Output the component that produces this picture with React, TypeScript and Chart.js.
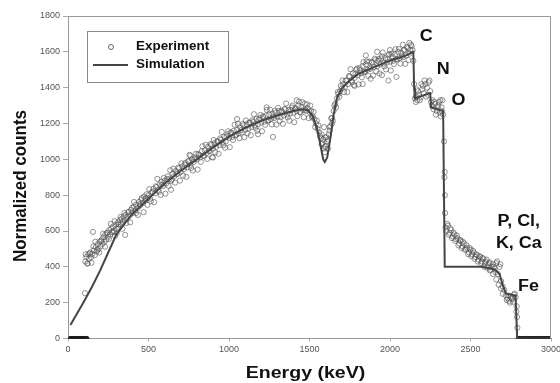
import React, { useEffect, useRef } from "react";
import { Chart, registerables } from "chart.js";

Chart.register(...registerables);

// ---- Data ----
const xTicks = [0, 500, 1000, 1500, 2000, 2500, 3000];
const yTicks = [0, 200, 400, 600, 800, 1000, 1200, 1400, 1600, 1800];

const expZeroLowE = [12, 16, 20, 24, 28, 32, 36, 40, 44, 48, 52, 56, 60, 64, 68, 72, 76, 80, 84, 88, 92, 96, 100, 104, 108, 112, 116, 119];

const expRise: [number, number][] = [
  [105, 253], [108, 430], [114, 455], [120, 418], [126, 470], [132, 445], [138, 480], [144, 455], [150, 472], [155, 595],
  [160, 492], [166, 465], [172, 510], [178, 485], [184, 525], [190, 500], [196, 540], [202, 515], [208, 550], [214, 528],
  [220, 565], [226, 540], [232, 580], [238, 552], [244, 590], [250, 568], [256, 605], [262, 580], [268, 615], [274, 592],
  [280, 625], [286, 600], [292, 572], [298, 635], [304, 612], [310, 648], [316, 622], [322, 660], [328, 638], [334, 668],
  [340, 650], [346, 682], [352, 660], [355, 578], [360, 690], [368, 672], [376, 705], [384, 688], [392, 718], [400, 700],
  [408, 735], [416, 715], [424, 748], [432, 728], [440, 762], [448, 742], [456, 775], [464, 755], [472, 792], [480, 770],
  [488, 805], [496, 785],
];

const expRiseB: [number, number][] = [
  [110, 470], [122, 420], [134, 475], [146, 423], [158, 515], [170, 540], [182, 493], [194, 480], [206, 543], [218, 585],
  [230, 512], [242, 589], [254, 555], [266, 640], [278, 597], [290, 655], [302, 588], [314, 638], [326, 678], [338, 612],
  [350, 700], [362, 645], [374, 706], [386, 648], [398, 729], [410, 762], [422, 700], [434, 690], [446, 750], [458, 784],
  [470, 705], [482, 782], [494, 746],
];

const expMid: [number, number][] = [
  [500, 800], [510, 780], [520, 815], [530, 835], [540, 810], [550, 845], [560, 830], [570, 860], [580, 875], [590, 850],
  [600, 880], [610, 865], [620, 905], [630, 890], [640, 880], [650, 920], [660, 905], [670, 935], [680, 920], [690, 950],
  [700, 930], [710, 960], [720, 945], [730, 980], [740, 955], [750, 990], [760, 970], [770, 1000], [780, 985], [790, 1010],
  [800, 1000], [810, 1030], [820, 1010], [830, 1045], [840, 1020], [850, 1050], [860, 1035], [870, 1070], [880, 1045], [890, 1080],
  [900, 1060], [910, 1090], [920, 1070], [930, 1100], [940, 1080], [950, 1110], [960, 1095], [970, 1125], [980, 1100], [990, 1140],
  [1000, 1120], [1010, 1150], [1020, 1125], [1030, 1160], [1040, 1135], [1050, 1165], [1060, 1145], [1070, 1180], [1080, 1150], [1090, 1190],
  [1100, 1165], [1110, 1195], [1120, 1170], [1130, 1205], [1140, 1180], [1150, 1210], [1160, 1190], [1170, 1225], [1180, 1195], [1190, 1230],
  [1200, 1205], [1210, 1240], [1220, 1210], [1230, 1245], [1240, 1215], [1250, 1250], [1260, 1225], [1270, 1255], [1280, 1230], [1290, 1260],
  [1300, 1240], [1310, 1270], [1320, 1235], [1330, 1265], [1340, 1245], [1350, 1280], [1360, 1250], [1370, 1275], [1380, 1255], [1390, 1290],
  [1400, 1260], [1410, 1285], [1420, 1270], [1430, 1300], [1440, 1265], [1450, 1290], [1460, 1275], [1470, 1310], [1480, 1270], [1490, 1285],
  [1273, 1125], [1234, 1290], [1180, 1140], [1420, 1330], [1050, 1225], [900, 1010], [760, 1020], [640, 830],
];

const expMidB: [number, number][] = [
  [505, 834], [515, 766], [525, 819], [535, 761], [545, 849], [555, 891], [565, 819], [575, 801], [585, 859], [595, 896],
  [605, 808], [615, 890], [625, 852], [635, 939], [645, 886], [655, 948], [665, 870], [675, 917], [685, 954], [695, 881],
  [705, 978], [715, 909], [725, 971], [735, 902], [745, 989], [755, 1025], [765, 952], [775, 938], [785, 1000], [795, 1031],
  [805, 943], [815, 1025], [825, 986], [835, 1073], [845, 1019], [855, 1081], [865, 1002], [875, 1049], [885, 1085], [895, 1012],
  [905, 1108], [915, 1039], [925, 1100], [935, 1031], [945, 1117], [955, 1153], [965, 1079], [975, 1065], [985, 1126], [995, 1157],
  [1005, 1068], [1015, 1148], [1025, 1108], [1035, 1193], [1045, 1138], [1055, 1198], [1065, 1118], [1075, 1163], [1085, 1198], [1095, 1123],
  [1105, 1217], [1115, 1146], [1125, 1205], [1135, 1134], [1145, 1218], [1155, 1252], [1165, 1176], [1175, 1160], [1185, 1219], [1195, 1248],
  [1205, 1157], [1215, 1235], [1225, 1193], [1235, 1276], [1245, 1219], [1255, 1277], [1265, 1195], [1275, 1238], [1285, 1271], [1295, 1194],
  [1305, 1287], [1315, 1214], [1325, 1271], [1335, 1198], [1345, 1280], [1355, 1312], [1365, 1234], [1375, 1216], [1385, 1273], [1395, 1300],
  [1405, 1207], [1415, 1284], [1425, 1241], [1435, 1322], [1445, 1263], [1455, 1319], [1465, 1235], [1475, 1276], [1485, 1307], [1495, 1230],
];

const expDip: [number, number][] = [
  [1500, 1265], [1510, 1270], [1520, 1240], [1530, 1225], [1540, 1200], [1550, 1170], [1560, 1150], [1570, 1120], [1580, 1090], [1590, 1060],
  [1600, 1075], [1610, 1100], [1620, 1140], [1630, 1185], [1640, 1230], [1650, 1270], [1660, 1310], [1670, 1340], [1680, 1365], [1690, 1380],
  [1555, 1190], [1575, 1140], [1600, 1120], [1615, 1060], [1625, 1180], [1640, 1200], [1590, 1180], [1595, 1040],
  [1505, 1300], [1515, 1235], [1525, 1265], [1535, 1180], [1545, 1215], [1565, 1130], [1575, 1085], [1585, 1110], [1595, 1070], [1605, 1125],
  [1615, 1110], [1625, 1160], [1635, 1230], [1645, 1215], [1655, 1300], [1665, 1290], [1675, 1375], [1685, 1350], [1695, 1410],
];

const expHigh: [number, number][] = [
  [1700, 1395], [1710, 1420], [1720, 1405], [1730, 1440], [1740, 1420], [1750, 1460], [1760, 1440], [1770, 1480], [1780, 1455], [1790, 1500],
  [1800, 1470], [1810, 1510], [1820, 1480], [1830, 1520], [1840, 1490], [1850, 1530], [1860, 1500], [1870, 1545], [1880, 1505], [1890, 1540],
  [1900, 1515], [1910, 1555], [1920, 1520], [1930, 1560], [1940, 1530], [1950, 1575], [1960, 1535], [1970, 1565], [1980, 1540], [1990, 1580],
  [2000, 1545], [2010, 1590], [2020, 1550], [2030, 1585], [2040, 1560], [2050, 1600], [2060, 1565], [2070, 1595], [2080, 1570], [2090, 1610],
  [2100, 1580], [2110, 1620], [2120, 1590], [2130, 1640], [2140, 1610],
  [1880, 1450], [1950, 1470], [1990, 1440], [2040, 1460], [1780, 1410], [1830, 1420],
  [1850, 1580], [1920, 1600], [2000, 1610], [2080, 1640], [2120, 1650],
];

const expHighB: [number, number][] = [
  [1705, 1440], [1715, 1375], [1725, 1440], [1735, 1375], [1745, 1465], [1755, 1503], [1765, 1429], [1775, 1415], [1785, 1476], [1795, 1507],
  [1805, 1418], [1815, 1498], [1825, 1458], [1835, 1543], [1845, 1488], [1855, 1547], [1865, 1466], [1875, 1510], [1885, 1544], [1895, 1468],
  [1905, 1562], [1915, 1491], [1925, 1550], [1935, 1479], [1945, 1563], [1955, 1596], [1965, 1519], [1975, 1502], [1985, 1560], [1995, 1588],
  [2005, 1496], [2015, 1574], [2025, 1532], [2035, 1615], [2045, 1558], [2055, 1616], [2065, 1534], [2075, 1577], [2085, 1610], [2095, 1533],
  [2105, 1626], [2115, 1554], [2125, 1612], [2135, 1631],
];

const expEdges: [number, number][] = [
  [2145, 1550], [2150, 1420], [2155, 1340], [2160, 1350], [2170, 1330], [2180, 1360], [2190, 1345], [2200, 1390], [2210, 1370], [2220, 1420],
  [2230, 1400], [2240, 1430], [2250, 1380], [2255, 1320], [2260, 1300], [2270, 1280], [2280, 1310], [2290, 1270], [2300, 1300], [2310, 1260],
  [2320, 1290], [2330, 1250],
  [2160, 1320], [2175, 1380], [2195, 1420], [2215, 1440], [2235, 1360], [2265, 1330], [2285, 1250], [2305, 1320], [2325, 1330], [2315, 1240],
  [2165, 1390], [2185, 1330], [2205, 1410], [2225, 1350], [2245, 1440], [2275, 1320], [2295, 1290], [2312, 1330], [2322, 1270],
  [2335, 1100], [2338, 900], [2340, 930], [2341, 800], [2342, 700],
];

const expTail: [number, number][] = [
  [2345, 620], [2350, 600], [2355, 640], [2360, 630], [2365, 580], [2370, 590], [2375, 615], [2380, 605], [2385, 560], [2390, 570],
  [2395, 590], [2400, 580], [2405, 545], [2410, 555], [2415, 575], [2420, 560], [2425, 520], [2430, 530], [2435, 550], [2440, 545],
  [2445, 505], [2450, 515], [2460, 530], [2470, 500], [2480, 505], [2490, 480], [2500, 495], [2510, 470], [2520, 480], [2530, 455],
  [2540, 465], [2550, 440], [2560, 455], [2570, 430], [2580, 445], [2590, 420], [2600, 440], [2610, 410], [2620, 425], [2630, 400],
  [2640, 415], [2650, 390], [2660, 420], [2670, 360], [2680, 400], [2690, 320], [2700, 290], [2710, 270], [2720, 240], [2730, 225],
  [2740, 210], [2750, 235], [2760, 220], [2770, 245], [2780, 230], [2785, 150],
  [2620, 380], [2640, 360], [2660, 330], [2675, 300], [2690, 280], [2700, 250], [2665, 430], [2685, 415],
  [2452, 540], [2465, 495], [2475, 520], [2485, 470], [2495, 505], [2505, 460], [2515, 490], [2525, 445], [2535, 470], [2545, 430],
  [2555, 460], [2565, 420], [2575, 450], [2585, 400], [2595, 430], [2605, 395], [2615, 420], [2625, 385], [2645, 400], [2655, 370],
  [2725, 215], [2735, 240], [2745, 200], [2755, 225], [2765, 205], [2775, 250],
  [2787, 180], [2789, 120], [2791, 60],
];

const expZeroHighE = [2795, 2801, 2807, 2813, 2819, 2825, 2831, 2837, 2843, 2849, 2855, 2861, 2867, 2873, 2879, 2885, 2891, 2897, 2903, 2909, 2915, 2921, 2927, 2933, 2939, 2945, 2951, 2957, 2963, 2969, 2975, 2981, 2987, 2993, 2999];

const simulation: [number, number][] = [
  [15, 75], [50, 130], [95, 200], [150, 290], [200, 380], [250, 480], [300, 580], [350, 640], [400, 695], [500, 780],
  [600, 865], [700, 935], [800, 1000], [900, 1065], [1000, 1125], [1100, 1175], [1200, 1215], [1300, 1245], [1400, 1270], [1450, 1280],
  [1490, 1275], [1520, 1240], [1550, 1160], [1570, 1070], [1585, 1000], [1595, 985], [1610, 1010], [1630, 1120], [1650, 1250], [1670, 1340],
  [1700, 1395], [1750, 1440], [1800, 1475], [1900, 1515], [2000, 1550], [2100, 1580], [2145, 1600], [2150, 1400], [2155, 1340], [2250, 1370],
  [2255, 1290], [2330, 1270], [2340, 400], [2570, 400], [2600, 395], [2650, 385], [2680, 360], [2700, 300], [2720, 250], [2780, 240],
  [2790, 0], [3000, 0],
];

const legendLabels = ["Experiment", "Simulation"];
const annotations: { text: string; e: number; v: number }[] = [
  { text: "C", e: 2225, v: 1685 },
  { text: "N", e: 2330, v: 1500 },
  { text: "O", e: 2425, v: 1330 },
  { text: "P, Cl,", e: 2800, v: 650 },
  { text: "K, Ca", e: 2800, v: 530 },
  { text: "Fe", e: 2860, v: 290 },
];

const FONT = '"Liberation Sans", Arial, Helvetica, sans-serif';

function stretchedText(ctx: CanvasRenderingContext2D, s: string, x: number, y: number, font: string, align: CanvasTextAlign, sx: number) {
  ctx.save();
  ctx.translate(x, y);
  ctx.scale(sx, 1);
  ctx.font = font;
  ctx.textAlign = align;
  ctx.textBaseline = "middle";
  ctx.fillStyle = "#111";
  ctx.fillText(s, 0, 0);
  ctx.restore();
}

const toPts = (arr: [number, number][]) => arr.map(([x, y]) => ({ x, y }));

export default function App() {
  const ref = useRef<HTMLCanvasElement | null>(null);

  useEffect(() => {
    document.body.style.margin = "0";
    const canvas = ref.current!;
    const expPoints = [
      ...toPts(expRise),
      ...toPts(expRiseB),
      ...toPts(expMid),
      ...toPts(expMidB),
      ...toPts(expDip),
      ...toPts(expHigh),
      ...toPts(expHighB),
      ...toPts(expEdges),
      ...toPts(expTail),
    ];
    const zeroPoints = [...expZeroLowE, ...expZeroHighE].map((e) => ({ x: e, y: 0 }));
    const simPoints = toPts(simulation);

    const overlay = {
      id: "overlay",
      beforeDraw(chart: any) {
        const c = chart.ctx;
        c.save();
        c.fillStyle = "#fff";
        c.fillRect(0, 0, chart.width, chart.height);
        c.restore();
      },
      afterDraw(chart: any) {
        const c: CanvasRenderingContext2D = chart.ctx;
        const a = chart.chartArea;
        const xs = chart.scales.x;
        const ys = chart.scales.y;
        c.save();
        c.strokeStyle = "#9a9a9a";
        c.lineWidth = 1;
        c.beginPath();
        c.moveTo(a.left, a.top + 0.5);
        c.lineTo(a.right - 0.5, a.top + 0.5);
        c.lineTo(a.right - 0.5, a.bottom);
        c.stroke();

        // legend
        c.strokeStyle = "#8a8a8a";
        c.strokeRect(87.5, 31.5, 141, 51);
        c.beginPath();
        c.strokeStyle = "#666";
        c.lineWidth = 1;
        c.arc(111, 47, 2.5, 0, Math.PI * 2);
        c.stroke();
        c.beginPath();
        c.strokeStyle = "#444";
        c.lineWidth = 2;
        c.moveTo(93, 65);
        c.lineTo(128, 65);
        c.stroke();
        stretchedText(c, legendLabels[0], 136, 47, `bold 12px ${FONT}`, "left", 1.12);
        stretchedText(c, legendLabels[1], 136, 65, `bold 12px ${FONT}`, "left", 1.12);

        for (const an of annotations) {
          stretchedText(c, an.text, xs.getPixelForValue(an.e), ys.getPixelForValue(an.v), `bold 16px ${FONT}`, "center", 1.12);
        }

        stretchedText(c, "Energy (keV)", (a.left + a.right) / 2 - 4, 373, `bold 17px ${FONT}`, "center", 1.15);
        c.save();
        c.translate(21, 186);
        c.rotate(-Math.PI / 2);
        c.scale(1, 1.12);
        c.font = `bold 17px ${FONT}`;
        c.textAlign = "center";
        c.textBaseline = "middle";
        c.fillStyle = "#111";
        c.fillText("Normalized counts", 0, 0);
        c.restore();
        c.restore();
      },
    };

    const chart = new Chart(canvas, {
      type: "scatter",
      data: {
        datasets: [
          {
            label: legendLabels[1],
            data: simPoints,
            showLine: true,
            borderColor: "#454545",
            borderWidth: 2,
            pointRadius: 0,
            tension: 0,
            order: 1,
          },
          {
            label: legendLabels[0],
            data: expPoints,
            showLine: false,
            pointStyle: "circle",
            pointRadius: 2.6,
            pointBorderWidth: 0.9,
            borderColor: "rgba(85,85,85,0.7)",
            backgroundColor: "rgba(0,0,0,0)",
            order: 2,
          },
          {
            label: "zeros",
            data: zeroPoints,
            showLine: false,
            pointStyle: "circle",
            pointRadius: 2,
            pointBorderWidth: 1,
            borderColor: "rgba(30,30,30,0.9)",
            backgroundColor: "rgba(30,30,30,0.6)",
            order: 3,
          },
        ],
      },
      options: {
        responsive: false,
        animation: false,
        events: [],
        layout: { padding: { left: 0, right: 9, top: 16, bottom: 0 } },
        plugins: { legend: { display: false }, tooltip: { enabled: false } },
        scales: {
          x: {
            type: "linear",
            min: 0,
            max: 3000,
            afterBuildTicks: (s: any) => {
              s.ticks = xTicks.map((v) => ({ value: v }));
            },
            afterFit: (s: any) => {
              s.height = 44.5;
              s.paddingLeft = 0;
              s.paddingRight = 0;
            },
            ticks: {
              autoSkip: false,
              maxRotation: 0,
              padding: 3,
              color: "#555",
              font: { family: FONT, size: 9 },
              callback: (v: any) => String(v),
            },
            grid: { drawOnChartArea: false, drawTicks: true, tickLength: 3, color: "#aaa" },
            border: { color: "#9a9a9a", width: 1 },
          },
          y: {
            type: "linear",
            min: 0,
            max: 1800,
            afterBuildTicks: (s: any) => {
              s.ticks = yTicks.map((v) => ({ value: v }));
            },
            afterFit: (s: any) => {
              s.width = 68;
              s.paddingTop = 0;
              s.paddingBottom = 0;
            },
            ticks: {
              autoSkip: false,
              padding: 3,
              color: "#555",
              font: { family: FONT, size: 9 },
              callback: (v: any) => String(v),
            },
            grid: { drawOnChartArea: false, drawTicks: true, tickLength: 5, color: "#aaa" },
            border: { color: "#9a9a9a", width: 1 },
          },
        },
      },
      plugins: [overlay],
    } as any);

    return () => chart.destroy();
  }, []);

  return (
    <div style={{ width: 560, height: 383 }}>
      <canvas ref={ref} width={560} height={383} style={{ display: "block" }} />
    </div>
  );
}
